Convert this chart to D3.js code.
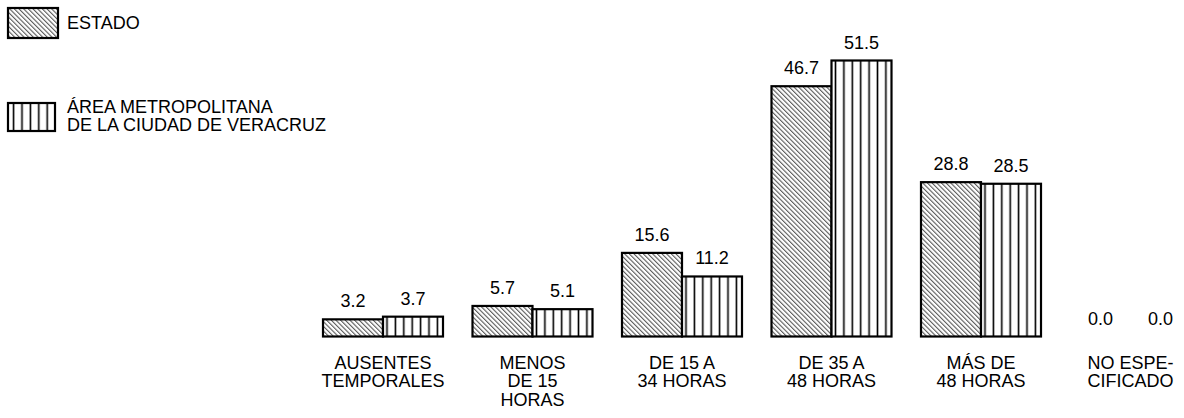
<!DOCTYPE html>
<html>
<head>
<meta charset="utf-8">
<script src="https://cdn.jsdelivr.net/npm/d3@7"></script>
<style>
  html, body { margin: 0; padding: 0; background: #fff; }
  svg { display: block; }
  text { font-family: "Liberation Sans", Arial, sans-serif; font-size: 18px; fill: #000; }
</style>
</head>
<body>
<svg id="chart" width="1184" height="418"></svg>
<script>
const categories = [
  ["AUSENTES", "TEMPORALES"],
  ["MENOS", "DE 15", "HORAS"],
  ["DE 15 A", "34 HORAS"],
  ["DE 35 A", "48 HORAS"],
  ["MÁS DE", "48 HORAS"],
  ["NO ESPE-", "CIFICADO"]
];
const seriesNames = ["ESTADO", "ÁREA METROPOLITANA|DE LA CIUDAD DE VERACRUZ"];
const estado = [3.2, 5.7, 15.6, 46.7, 28.8, 0.0];
const veracruz = [3.7, 5.1, 11.2, 51.5, 28.5, 0.0];

const svg = d3.select("#chart");
const defs = svg.append("defs");

// diagonal hatch
const diag = defs.append("pattern")
  .attr("id", "diag").attr("patternUnits", "userSpaceOnUse")
  .attr("width", 3.3).attr("height", 10)
  .attr("patternTransform", "rotate(-45)");
diag.append("rect").attr("width", 3.3).attr("height", 10).attr("fill", "#fff");
diag.append("line").attr("x1", 0.6).attr("x2", 0.6).attr("y1", 0).attr("y2", 10)
  .attr("stroke", "#333").attr("stroke-width", 0.9);

// vertical stripes
const vert = defs.append("pattern")
  .attr("id", "vert").attr("patternUnits", "userSpaceOnUse")
  .attr("width", 8.4).attr("height", 10).attr("x", 1);
vert.append("rect").attr("width", 8.4).attr("height", 10).attr("fill", "#fff");
vert.append("line").attr("x1", 4.2).attr("x2", 4.2).attr("y1", 0).attr("y2", 10)
  .attr("stroke", "#000").attr("stroke-width", 1.6);

const fills = ["url(#diag)", "url(#vert)"];

const idx = d3.range(categories.length);
const pi = 29.5 / 149.5;
const x0 = d3.scaleBand().domain(idx).range([308.25, 1205.25])
  .paddingInner(pi).paddingOuter(pi / 2);
const x1 = d3.scaleBand().domain([0, 1]).range([0, x0.bandwidth()]);
const y = d3.scaleLinear().domain([0, 51.5]).range([336.5, 60.5]);

const data = idx.map(i => [estado[i], veracruz[i]]);

const g = svg.append("g");
const groups = g.selectAll("g.grp").data(data).join("g")
  .attr("class", "grp")
  .attr("transform", (d, i) => `translate(${x0(i)},0)`);

groups.selectAll("rect").data(d => d.map((v, s) => ({ v, s }))).join("rect")
  .attr("x", d => x1(d.s))
  .attr("y", d => y(d.v))
  .attr("width", x1.bandwidth())
  .attr("height", d => y(0) - y(d.v))
  .attr("fill", d => fills[d.s])
  .attr("stroke", "#000").attr("stroke-width", 2.2)
  .attr("display", d => d.v === 0 ? "none" : null);

groups.selectAll("text.val").data(d => d.map((v, s) => ({ v, s }))).join("text")
  .attr("class", "val")
  .attr("x", d => x1(d.s) + x1.bandwidth() / 2)
  .attr("y", d => y(d.v) - 12)
  .attr("text-anchor", "middle")
  .text(d => d3.format(".1f")(d.v));

// category labels
const catG = svg.append("g");
categories.forEach((lines, i) => {
  const t = catG.append("text")
    .attr("x", x0(i) + x0.bandwidth() / 2)
    .attr("y", 368.5)
    .attr("text-anchor", "middle");
  lines.forEach((ln, k) => {
    t.append("tspan").attr("x", x0(i) + x0.bandwidth() / 2)
      .attr("dy", k === 0 ? 0 : 18.5).text(ln);
  });
});

// legend
const leg = svg.append("g");
const legItems = [
  { fill: fills[0], y: 8, h: 30, w: 50, ty: 29 },
  { fill: fills[1], y: 103, h: 28, w: 47, ty: 112.5 }
];
legItems.forEach((it, i) => {
  leg.append("rect").attr("x", 8).attr("y", it.y).attr("width", it.w).attr("height", it.h)
    .attr("fill", it.fill).attr("stroke", "#000").attr("stroke-width", 2.2);
  seriesNames[i].split("|").forEach((ln, k) => {
    leg.append("text").attr("x", 67).attr("y", it.ty + k * 18).text(ln);
  });
});
</script>
</body>
</html>
